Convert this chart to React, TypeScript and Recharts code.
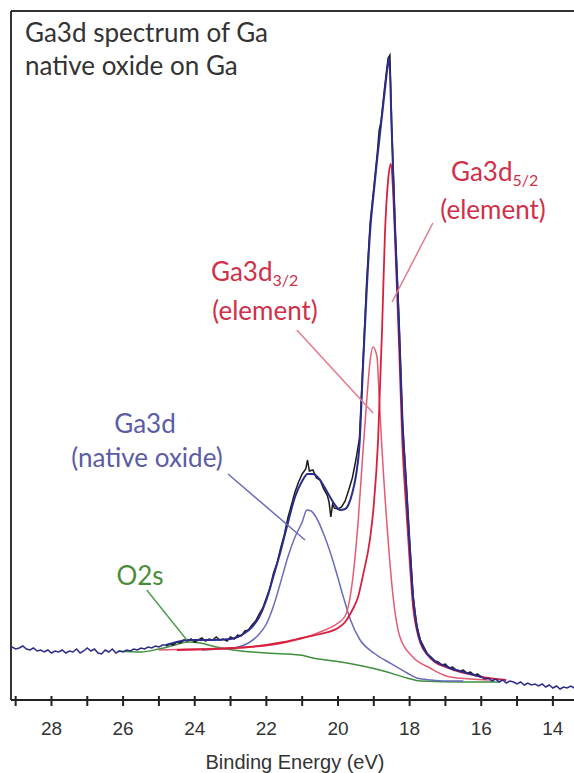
import { LineChart, Line, XAxis, YAxis, ReferenceLine } from 'recharts';

// binding energy (eV) / intensity (arbitrary)
const leftBaseE = [29.2, 29.1, 29.0, 28.9, 28.8, 28.7, 28.6, 28.5, 28.4, 28.3, 28.2, 28.1, 28.0, 27.9, 27.8, 27.7, 27.6, 27.5, 27.4, 27.3, 27.2, 27.1, 27.0, 26.9, 26.8, 26.7, 26.6, 26.5, 26.4, 26.3, 26.2, 26.1, 26.0, 25.9, 25.8, 25.7, 25.6, 25.5, 25.4, 25.3, 25.2, 25.1, 25.0, 24.9, 24.8];
const leftBaseV = [52, 53, 51, 52, 54, 51, 50, 52, 49, 50, 48, 50, 47, 49, 48, 50, 47, 49, 48, 51, 47, 49, 52, 49, 51, 47, 46, 50, 48, 51, 47, 49, 48, 50, 49, 51, 50, 52, 51, 53, 52, 54, 53, 55, 55];

const rawE = [24.8, 24.7, 24.6, 24.5, 24.4, 24.3, 24.2, 24.1, 24.0, 23.9, 23.8, 23.7, 23.6, 23.5, 23.4, 23.3, 23.2, 23.1, 23.0, 22.9, 22.8, 22.7, 22.6, 22.5, 22.4, 22.3, 22.2, 22.1, 22.0, 21.9, 21.8, 21.7, 21.6, 21.5, 21.4, 21.3, 21.2, 21.1, 21.0, 20.9, 20.85, 20.8, 20.7, 20.6, 20.5, 20.4, 20.3, 20.25, 20.2, 20.15, 20.1, 20.0, 19.9, 19.8, 19.7, 19.6, 19.5, 19.4, 19.3, 19.2, 19.1, 19.0, 18.9, 18.85, 18.8, 18.7, 18.6, 18.55, 18.5, 18.4, 18.3, 18.2, 18.1, 18.0, 17.9, 17.8, 17.7, 17.6, 17.5, 17.4, 17.3, 17.2, 17.1, 17.0, 16.9, 16.8, 16.7, 16.6, 16.5, 16.4, 16.3, 16.2, 16.1, 16.0];
const rawV = [54, 56, 55, 58, 57, 60, 59, 61, 58, 60, 62, 59, 61, 60, 63, 60, 61, 59, 63, 61, 65, 64, 69, 70, 75, 79, 86, 92, 102, 112, 127, 137, 152, 165, 182, 195, 208, 218, 226, 231, 240, 229, 230, 222, 220, 211, 205, 198, 183, 196, 192, 191, 193, 199, 210, 222, 240, 262, 340, 418, 478, 512, 548, 570, 578, 612, 642, 645, 575, 468, 382, 278, 220, 158, 103, 74, 60, 53, 46, 43, 39, 38, 35, 36, 32, 33, 30, 29, 30, 27, 28, 25, 26, 23];

const envelopeE = [24.8, 24.5, 24.2, 23.5, 23.0, 22.8, 22.6, 22.4, 22.2, 22.0, 21.8, 21.6, 21.4, 21.2, 21.0, 20.85, 20.7, 20.5, 20.3, 20.1, 19.95, 19.8, 19.7, 19.6, 19.5, 19.4, 19.3, 19.2, 19.1, 19.0, 18.9, 18.8, 18.7, 18.6, 18.57, 18.5, 18.4, 18.3, 18.2, 18.1, 18.0, 17.9, 17.8, 17.7, 17.6, 17.4, 17.2, 17.0, 16.8, 16.6, 16.4, 16.2, 16.0];
const envelopeV = [55, 58, 60, 60, 61, 63, 67, 73, 83, 100, 124, 149, 177, 203, 219, 226, 226, 220, 208, 196, 190, 191, 196, 207, 224, 255, 335, 408, 470, 508, 543, 575, 607, 637, 642, 570, 466, 380, 280, 218, 157, 102, 74, 59, 51, 42, 37, 34, 31, 29, 27, 25, 23];

const rightBaseE = [16.0, 15.9, 15.8, 15.7, 15.6, 15.5, 15.4, 15.3, 15.2, 15.1, 15.0, 14.9, 14.8, 14.7, 14.6, 14.5, 14.4, 14.3, 14.2, 14.1, 14.0, 13.9, 13.8, 13.7, 13.6, 13.5, 13.4, 13.3];
const rightBaseV = [23, 21, 22, 19, 21, 18, 20, 17, 19, 18, 16, 18, 15, 17, 15, 16, 14, 16, 13, 15, 12, 14, 11, 13, 12, 14, 12, 13];

const o2sE = [26.15, 25.5, 25.0, 24.55, 24.22, 23.85, 23.4, 22.93, 22.0, 21.06, 20.7, 19.75, 18.83, 18.07, 17.7, 16.5, 15.5];
const o2sV = [49, 48, 51, 55, 58, 57, 53, 50, 47, 45, 42, 37, 30, 22, 19, 18, 18];

const oxideE = [23.8, 23.3, 22.9, 22.5, 22.25, 22.0, 21.8, 21.6, 21.4, 21.2, 21.0, 20.87, 20.75, 20.6, 20.4, 20.2, 20.0, 19.85, 19.65, 19.4, 19.0, 18.55, 18.07, 17.8, 17.4, 17.0, 16.5];
const oxideV = [50, 51, 52, 57, 64, 76, 94, 118, 143, 163, 178, 190, 189, 182, 166, 146, 122, 103, 80, 61, 47, 37, 27, 22, 20, 19, 19];

const d32E = [25.0, 24.0, 23.0, 22.4, 21.4, 20.5, 20.0, 19.8, 19.66, 19.44, 19.3, 19.19, 19.11, 19.02, 18.91, 18.85, 18.77, 18.6, 18.46, 18.27, 17.91, 17.43, 16.87, 15.75];
const d32V = [50, 51, 52, 53, 58, 68, 77, 84, 103, 177, 250, 303, 337, 353, 343, 303, 250, 160, 103, 63, 43, 32, 23, 20];

const d52E = [24.5, 23.5, 22.5, 22.0, 21.5, 21.0, 20.5, 20.0, 19.8, 19.6, 19.44, 19.3, 19.11, 19.0, 18.88, 18.77, 18.69, 18.6, 18.52, 18.45, 18.4, 18.3, 18.2, 18.1, 18.0, 17.9, 17.8, 17.7, 17.5, 17.3, 17.0, 16.6, 16.2, 15.8, 15.3];
const d52V = [50, 51, 53, 55, 58, 62, 66, 72, 78, 90, 103, 125, 160, 195, 260, 370, 465, 520, 536, 500, 455, 360, 255, 195, 140, 92, 70, 57, 45, 38, 33, 28, 25, 22, 20];

const energyTicks = [29, 28, 27, 26, 25, 24, 23, 22, 21, 20, 19, 18, 17, 16, 15, 14];

const pts = (es: number[], vs: number[]) => es.map((e, i) => ({ e, v: vs[i] }));

const EnergyTick = (props: any) => {
  const { x, y, payload } = props;
  const even = payload.value % 2 === 0;
  return (
    <g>
      <line x1={x} x2={x} y1={y - 4} y2={y + 6} stroke="#222" strokeWidth={2} />
      {even && (
        <text x={x} y={y + 35} textAnchor="middle" fontSize={19} fill="#333" fontFamily="'Liberation Sans', Arial, sans-serif">
          {payload.value}
        </text>
      )}
    </g>
  );
};

const labelFont = "Lato, 'Open Sans', sans-serif";

export default function App() {
  return (
    <div style={{ position: 'absolute', left: 0, top: 0, width: 574, height: 773, overflow: 'hidden', background: '#fff' }}>
      <LineChart width={574} height={773} margin={{ top: 11, right: 0, bottom: 0, left: 11 }}>
        <XAxis
          type="number"
          dataKey="e"
          domain={[13.41, 29.13]}
          reversed
          allowDataOverflow
          ticks={energyTicks}
          interval={0}
          height={73}
          tickSize={0}
          tickMargin={0}
          tickLine={false}
          tick={<EnergyTick />}
          axisLine={{ stroke: '#222', strokeWidth: 2 }}
        />
        <YAxis type="number" dataKey="v" domain={[0, 689]} allowDataOverflow hide />
        <ReferenceLine x={29.13} stroke="#333" strokeWidth={2} />
        <ReferenceLine y={689} stroke="#333" strokeWidth={2} />

        <Line data={pts(o2sE, o2sV)} dataKey="v" type="monotone" stroke="#3f8f3f" strokeWidth={1.5} dot={false} isAnimationActive={false} />
        <Line data={pts(oxideE, oxideV)} dataKey="v" type="monotone" stroke="#6a6abd" strokeWidth={1.5} dot={false} isAnimationActive={false} />
        <Line data={pts(d32E, d32V)} dataKey="v" type="monotone" stroke="#e35a74" strokeWidth={1.5} dot={false} isAnimationActive={false} />
        <Line data={pts(d52E, d52V)} dataKey="v" type="monotone" stroke="#d8203e" strokeWidth={1.8} dot={false} isAnimationActive={false} />
        <Line data={pts(rawE, rawV)} dataKey="v" type="linear" stroke="#1c1c1c" strokeWidth={1.5} dot={false} isAnimationActive={false} />
        <Line data={pts(envelopeE, envelopeV)} dataKey="v" type="monotone" stroke="#2c2c8a" strokeWidth={2} dot={false} isAnimationActive={false} />
        <Line data={pts(leftBaseE, leftBaseV)} dataKey="v" type="linear" stroke="#2c2c8a" strokeWidth={1.5} dot={false} isAnimationActive={false} />
        <Line data={pts(rightBaseE, rightBaseV)} dataKey="v" type="linear" stroke="#2c2c8a" strokeWidth={1.5} dot={false} isAnimationActive={false} />

        <ReferenceLine segment={[{ x: 23.07, y: 226 }, { x: 20.92, y: 160 }]} stroke="#6a6abd" strokeWidth={1.5} />
        <ReferenceLine segment={[{ x: 25.34, y: 110 }, { x: 24.22, y: 60 }]} stroke="#4f9f4f" strokeWidth={1.5} />
        <ReferenceLine segment={[{ x: 21.15, y: 370 }, { x: 19.02, y: 287 }]} stroke="#e57a8a" strokeWidth={1.5} />
        <ReferenceLine segment={[{ x: 17.35, y: 477 }, { x: 18.49, y: 398 }]} stroke="#e57a8a" strokeWidth={1.5} />
      </LineChart>

      <svg width={574} height={773} style={{ position: 'absolute', left: 0, top: 0, pointerEvents: 'none' }}>
        <g fontFamily={labelFont} fontSize={26} fill="#333">
          <text x={25} y={42}>Ga3d spectrum of Ga</text>
          <text x={25} y={75}>native oxide on Ga</text>
        </g>
        <g fontFamily={labelFont} fontSize={26} fill="#5b5ba8" textAnchor="middle">
          <text x={145} y={433}>Ga3d</text>
          <text x={147} y={467}>(native oxide)</text>
        </g>
        <text x={140} y={585} fontFamily={labelFont} fontSize={26} fill="#4a8c3a" textAnchor="middle">O2s</text>
        <g fontFamily={labelFont} fontSize={26} fill="#d0304a">
          <text x={211} y={281}>Ga3d<tspan fontSize={16} dy={5}>3/2</tspan></text>
          <text x={265} y={320} textAnchor="middle">(element)</text>
          <text x={451} y={181}>Ga3d<tspan fontSize={16} dy={5}>5/2</tspan></text>
          <text x={493} y={219} textAnchor="middle">(element)</text>
        </g>
        <text x={295} y={769} textAnchor="middle" fontFamily="'Liberation Sans', Arial, sans-serif" fontSize={20} fill="#333">
          Binding Energy (eV)
        </text>
      </svg>
    </div>
  );
}
